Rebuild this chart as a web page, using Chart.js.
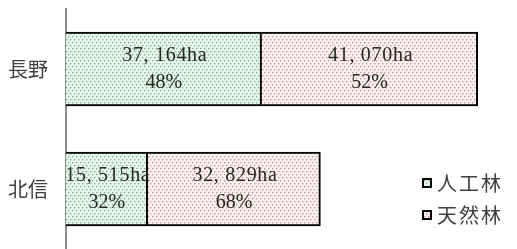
<!DOCTYPE html>
<html><head><meta charset="utf-8">
<script src="https://cdn.jsdelivr.net/npm/chart.js@4"></script>
<style>html,body{margin:0;padding:0;background:#fff}#wrap{width:517px;height:249px}</style>
</head><body><div id="wrap"><canvas id="c" width="517" height="249"></canvas></div>
<script>
const categories = ['長野', '北信'];
const seriesNames = ['人工林', '天然林'];
const plantedHa = [37164, 15515];
const naturalHa = [41070, 32829];
const xMax = 80000;

const canvas = document.getElementById('c');
const ctx = canvas.getContext('2d');

function makePattern(bg, dot, soft) {
  const t = document.createElement('canvas');
  t.width = 4; t.height = 6;
  const g = t.getContext('2d');
  g.fillStyle = bg; g.fillRect(0, 0, 4, 6);
  g.fillStyle = soft;
  g.fillRect(1, 0, 1, 1); g.fillRect(0, 1, 1, 1);
  g.fillRect(3, 3, 1, 1); g.fillRect(2, 4, 1, 1);
  g.fillStyle = dot;
  g.fillRect(0, 0, 1, 1); g.fillRect(2, 3, 1, 1);
  return ctx.createPattern(t, 'repeat');
}
const greenPat = makePattern('#e4f6ea', '#88b293', '#bedbc6');
const pinkPat = makePattern('#fcefef', '#c09ea1', '#e2caca');
const patterns = [greenPat, pinkPat];

const labelPlugin = {
  id: 'barLabels',
  afterDatasetsDraw(chart) {
    const c = chart.ctx;
    c.save();
    c.fillStyle = '#262626';
    c.textAlign = 'center';
    c.textBaseline = 'middle';
    c.font = '20px "Liberation Serif"';
    chart.data.datasets.forEach((ds, di) => {
      const meta = chart.getDatasetMeta(di);
      meta.data.forEach((bar, i) => {
        const total = chart.data.datasets.reduce((s, d) => s + d.data[i], 0);
        const v = ds.data[i];
        const cx = (bar.x + bar.base) / 2;
        const cy = bar.y;
        const l1 = v.toLocaleString('en-US').replace(',', ', ') + 'ha';
        const l2 = Math.round(v / total * 100) + '%';
        c.letterSpacing = '0.7px';
        c.fillText(l1, cx + 1, cy - 13);
        c.letterSpacing = '0px';
        c.fillText(l2, cx, cy + 14);
      });
    });
    c.restore();
  }
};

const legendPlugin = {
  id: 'sideLegend',
  afterDraw(chart) {
    const c = chart.ctx;
    c.save();
    chart.data.datasets.forEach((ds, i) => {
      const y = 183 + i * 32;
      c.fillStyle = patterns[i];
      c.fillRect(422, y - 5, 10, 10);
      c.strokeStyle = '#000';
      c.lineWidth = 2;
      c.strokeRect(423, y - 4, 8, 8);
      c.fillStyle = '#404040';
      c.font = '20px "Noto Sans CJK JP"';
      c.textBaseline = 'middle';
      c.textAlign = 'left';
      c.letterSpacing = '2px';
      c.fillText(ds.label, 437, y);
    });
    c.restore();
  }
};

new Chart(ctx, {
  type: 'bar',
  data: {
    labels: categories,
    datasets: [
      { label: seriesNames[0], data: plantedHa, backgroundColor: greenPat, borderColor: '#000', borderWidth: 2, barThickness: 74 },
      { label: seriesNames[1], data: naturalHa, backgroundColor: pinkPat, borderColor: '#000', borderWidth: 2, barThickness: 74 }
    ]
  },
  options: {
    indexAxis: 'y',
    responsive: false,
    animation: false,
    devicePixelRatio: 1,
    layout: { padding: { top: 9, right: 30, bottom: -4, left: 0 } },
    plugins: { legend: { display: false }, tooltip: { enabled: false } },
    scales: {
      x: { stacked: true, min: 0, max: xMax, display: false },
      y: {
        stacked: true,
        grid: { display: false },
        border: { display: true, color: '#8c8c8c', width: 2 },
        ticks: { font: { family: '"Noto Sans CJK JP"', size: 20 }, color: '#404040', padding: 10 },
        afterFit(s) { s.width = 66; s.paddingTop = 0; s.paddingBottom = 0; }
      }
    }
  },
  plugins: [labelPlugin, legendPlugin]
});
</script>
</body></html>
